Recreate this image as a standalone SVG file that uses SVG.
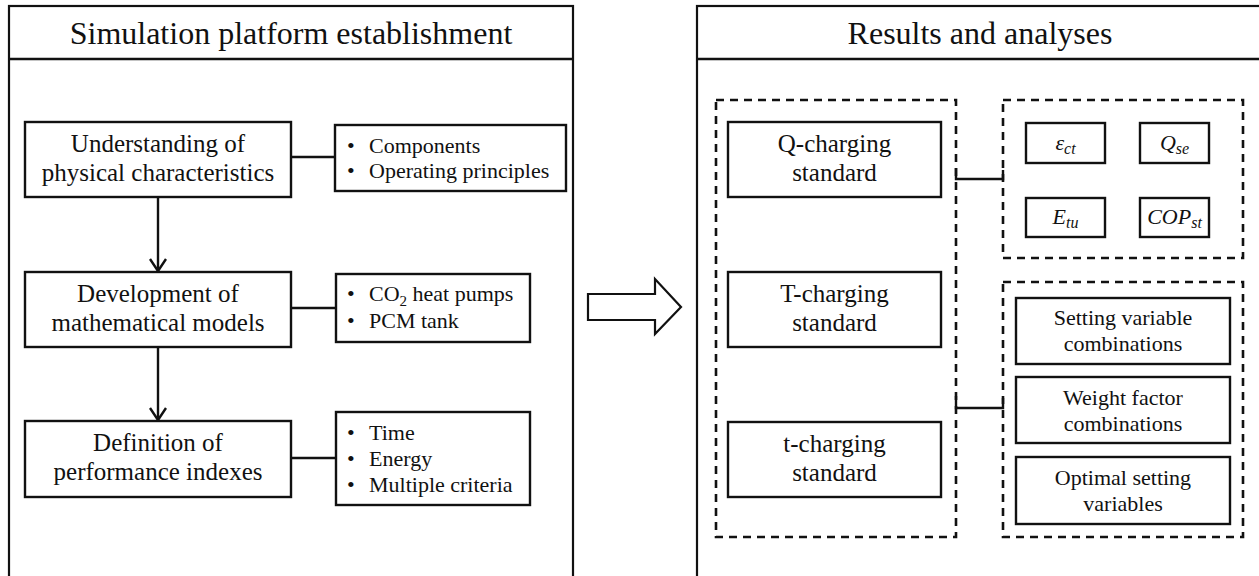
<svg xmlns="http://www.w3.org/2000/svg" width="1259" height="576" viewBox="0 0 1259 576">
<defs>
<style>
.panel{fill:#fff;stroke:#111;stroke-width:2.2}
.box{fill:#fff;stroke:#111;stroke-width:2.4}
.dash{fill:none;stroke:#111;stroke-width:2.6;stroke-dasharray:8 6}
.ln{fill:none;stroke:#111;stroke-width:2.4}
.t{font-family:"Liberation Serif","Times New Roman",serif;fill:#111}
.title{font-size:32px;text-anchor:middle}
.main{font-size:25px;text-anchor:middle}
.bul{font-size:22px}
.sm{font-size:22px;text-anchor:middle}
.m{font-family:"Liberation Serif","Times New Roman",serif;font-style:italic;font-size:22px;text-anchor:middle;fill:#111}
</style>
<marker id="vh" markerWidth="20" markerHeight="20" refX="15" refY="10" orient="auto" markerUnits="userSpaceOnUse" viewBox="0 0 20 20">
<path d="M3,2 L15,10 L3,18" fill="none" stroke="#111" stroke-width="2.4"/>
</marker>
</defs>
<rect width="1259" height="576" fill="#fff"/>

<g id="panel-left">
<rect class="panel" x="9" y="6" width="564" height="600"/>
<line class="ln" x1="9" y1="59" x2="573" y2="59" stroke-width="2.2"/>
<text class="t title" x="291" y="44">Simulation platform establishment</text>
</g>

<g id="panel-right">
<rect class="panel" x="697" y="6" width="600" height="600"/>
<line class="ln" x1="697" y1="59" x2="1259" y2="59" stroke-width="2.2"/>
<text class="t title" x="980" y="44">Results and analyses</text>
</g>

<g id="connectors">
<line class="ln" x1="158" y1="197" x2="158" y2="271" marker-end="url(#vh)"/>
<line class="ln" x1="158" y1="347" x2="158" y2="420" marker-end="url(#vh)"/>
<line class="ln" x1="291" y1="157" x2="335" y2="157"/>
<line class="ln" x1="291" y1="308" x2="336" y2="308"/>
<line class="ln" x1="291" y1="458" x2="336" y2="458"/>
<polyline class="ln" points="956,168 956,179 1003,179 1003,170"/>
<polyline class="ln" points="956,396 956,408 1003,408 1003,398"/>
<polygon id="block-arrow" points="588,294 655,294 655,279 681,307 655,334 655,320 588,320" fill="#fff" stroke="#111" stroke-width="2.2"/>
</g>

<g id="n-understanding">
<rect class="box" x="25" y="122" width="266" height="75"/>
<text class="t main" x="158" y="152">Understanding of</text>
<text class="t main" x="158" y="181">physical characteristics</text>
</g>
<g id="n-understanding-list">
<rect class="box" x="335" y="125" width="231" height="66"/>
<text class="t bul" y="153"><tspan x="347">•</tspan><tspan x="369">Components</tspan></text>
<text class="t bul" y="178"><tspan x="347">•</tspan><tspan x="369">Operating principles</tspan></text>
</g>

<g id="n-development">
<rect class="box" x="25" y="272" width="266" height="75"/>
<text class="t main" x="158" y="302">Development of</text>
<text class="t main" x="158" y="331">mathematical models</text>
</g>
<g id="n-development-list">
<rect class="box" x="336" y="274" width="194" height="68"/>
<text class="t bul" y="301"><tspan x="347">•</tspan><tspan x="369">CO</tspan><tspan font-size="15" dy="5">2</tspan><tspan dy="-5"> heat pumps</tspan></text>
<text class="t bul" y="328"><tspan x="347">•</tspan><tspan x="369">PCM tank</tspan></text>
</g>

<g id="n-definition">
<rect class="box" x="25" y="421" width="266" height="76"/>
<text class="t main" x="158" y="451">Definition of</text>
<text class="t main" x="158" y="480">performance indexes</text>
</g>
<g id="n-definition-list">
<rect class="box" x="336" y="412" width="194" height="93"/>
<text class="t bul" y="440"><tspan x="347">•</tspan><tspan x="369">Time</tspan></text>
<text class="t bul" y="466"><tspan x="347">•</tspan><tspan x="369">Energy</tspan></text>
<text class="t bul" y="492"><tspan x="347">•</tspan><tspan x="369">Multiple criteria</tspan></text>
</g>

<g id="g-standards">
<rect class="dash" x="716" y="100" width="240" height="437"/>
</g>
<g id="n-q-charging">
<rect class="box" x="728" y="122" width="213" height="75"/>
<text class="t main" x="834.5" y="152">Q-charging</text>
<text class="t main" x="834.5" y="181">standard</text>
</g>
<g id="n-T-charging">
<rect class="box" x="728" y="272" width="213" height="75"/>
<text class="t main" x="834.5" y="302">T-charging</text>
<text class="t main" x="834.5" y="331">standard</text>
</g>
<g id="n-t-charging">
<rect class="box" x="728" y="422" width="213" height="75"/>
<text class="t main" x="834.5" y="452">t-charging</text>
<text class="t main" x="834.5" y="481">standard</text>
</g>

<g id="g-indexes">
<rect class="dash" x="1003" y="100" width="240" height="158"/>
</g>
<g id="n-eps">
<rect class="box" x="1026" y="123" width="79" height="40"/>
<text class="m" x="1065.5" y="150">ε<tspan font-size="16" dy="4">ct</tspan></text>
</g>
<g id="n-qse">
<rect class="box" x="1140" y="123" width="69" height="40"/>
<text class="m" x="1174.5" y="150">Q<tspan font-size="16" dy="4">se</tspan></text>
</g>
<g id="n-etu">
<rect class="box" x="1026" y="198" width="79" height="39"/>
<text class="m" x="1065.5" y="224">E<tspan font-size="16" dy="4">tu</tspan></text>
</g>
<g id="n-cop">
<rect class="box" x="1140" y="198" width="69" height="39"/>
<text class="m" x="1174.5" y="224">COP<tspan font-size="16" dy="4">st</tspan></text>
</g>

<g id="g-optimization">
<rect class="dash" x="1003" y="282" width="240" height="255"/>
</g>
<g id="n-setting">
<rect class="box" x="1016" y="298" width="214" height="66"/>
<text class="t sm" x="1123" y="325">Setting variable</text>
<text class="t sm" x="1123" y="351">combinations</text>
</g>
<g id="n-weight">
<rect class="box" x="1016" y="377" width="214" height="66"/>
<text class="t sm" x="1123" y="405">Weight factor</text>
<text class="t sm" x="1123" y="431">combinations</text>
</g>
<g id="n-optimal">
<rect class="box" x="1016" y="457" width="214" height="67"/>
<text class="t sm" x="1123" y="485">Optimal setting</text>
<text class="t sm" x="1123" y="511">variables</text>
</g>
</svg>
